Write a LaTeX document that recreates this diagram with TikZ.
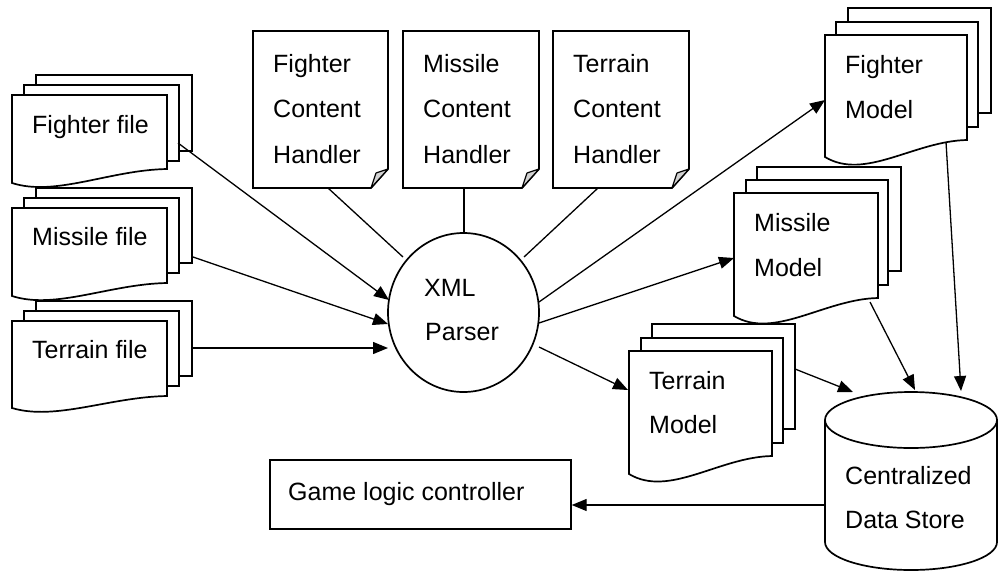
\documentclass[tikz,border=0pt]{standalone}
\usepackage{fontspec}
\setmainfont{Liberation Sans}
\usetikzlibrary{arrows.meta}

% document page with a wavy bottom edge: x0, top, x1, bottom-right y, bottom-left y, dip
\newcommand\frontdoc[6]{%
  \draw[page] (#1,#2) -- (#3,#2) -- (#3,#4)
    .. controls ({#1+0.63*(#3-#1)},{#4+1}) and ({#1+0.28*(#3-#1)},{#5+#6}) .. (#1,#5) -- cycle;}
% plain sheet behind a front page
\newcommand\backdoc[4]{\draw[page] (#1,#2) rectangle (#3,#4);}
% handler sheet with a folded bottom-right corner: left, right
\newcommand\handler[2]{%
  \draw[page] (#1,31) -- (#2,31) -- (#2,169) -- ({#2-17},188) -- (#1,188) -- cycle;
  \draw[foldfill] ({#2-17},188) .. controls ({#2-15},181) .. ({#2-12},173)
    .. controls ({#2-6},171) .. (#2,169) -- cycle;}

\begin{document}
\begin{tikzpicture}[x=1pt,y=-1pt,
  page/.style={draw=black, fill=white, line width=1.7pt, line join=miter},
  conn/.style={draw=black, line width=1.3pt},
  arr/.style={conn, -{Triangle[length=15pt,width=12pt]}},
  lbl/.style={anchor=base west, inner sep=0pt, font=\fontsize{25}{30}\selectfont},
  foldfill/.style={draw=black, fill=gray!35, line width=1.2pt, line join=round}]

\useasboundingbox (0,0) rectangle (998,571);

% ---------- input files ----------
\backdoc{36}{75}{192}{151}
\backdoc{24}{85}{179}{161}
\frontdoc{12}{95}{167}{169}{183}{14}
\node[lbl] (ff-text) at (32,133) {Fighter file};

\backdoc{36}{188}{192}{263}
\backdoc{24}{198}{179}{273}
\frontdoc{12}{208}{167}{283}{296}{14}
\node[lbl] (mf-text) at (32,245) {Missile file};

\backdoc{36}{301}{192}{376}
\backdoc{24}{311}{179}{386}
\frontdoc{12}{321}{167}{396}{408}{13}
\node[lbl] (tf-text) at (32,358) {Terrain file};

% ---------- content handlers ----------
\handler{253}{388}
\node[lbl] (fch-1) at (273,72) {Fighter};
\node[lbl] (fch-2) at (273,117) {Content};
\node[lbl] (fch-3) at (273,163) {Handler};

\handler{403}{539}
\node[lbl] (mch-1) at (423,72) {Missile};
\node[lbl] (mch-2) at (423,117) {Content};
\node[lbl] (mch-3) at (423,163) {Handler};

\handler{553}{689}
\node[lbl] (tch-1) at (573,72) {Terrain};
\node[lbl] (tch-2) at (573,117) {Content};
\node[lbl] (tch-3) at (573,163) {Handler};

% ---------- parser ----------
\draw[page] (463.5,312.5) ellipse [x radius=75.5pt, y radius=79.5pt];
\node[lbl] (xml-1) at (424,296) {XML};
\node[lbl] (xml-2) at (425,340) {Parser};

% ---------- models ----------
\backdoc{848}{8}{991}{113}
\backdoc{836}{22}{978}{127}
\frontdoc{825}{35}{967}{140}{157}{24}
\node[lbl] (fm-1) at (845,73) {Fighter};
\node[lbl] (fm-2) at (845,118) {Model};

\backdoc{757}{167}{901}{271}
\backdoc{746}{180}{888}{285}
\frontdoc{734}{193}{878}{298}{316}{24}
\node[lbl] (mm-1) at (754,231) {Missile};
\node[lbl] (mm-2) at (754,276) {Model};

\backdoc{652}{324}{795}{429}
\backdoc{641}{338}{783}{443}
\frontdoc{629}{351}{772}{456}{474}{24}
\node[lbl] (tm-1) at (649,389) {Terrain};
\node[lbl] (tm-2) at (649,433) {Model};

% ---------- data store ----------
\draw[page] (825,420) -- (825,542)
  arc[start angle=180, end angle=360, x radius=86pt, y radius=28pt] -- (997,420);
\draw[page] (911,420) ellipse [x radius=86pt, y radius=28pt];
\node[lbl] (ds-1) at (845,484) {Centralized};
\node[lbl] (ds-2) at (845,528) {Data Store};

% ---------- controller ----------
\node[draw=black, line width=1.7pt, minimum width=301pt, minimum height=69pt,
      inner sep=0pt, anchor=north west] (glc) at (269,459) {};
\node[lbl] (glc-text) at (288,500) {Game logic controller};

% ---------- connector end points ----------
\coordinate (ff-out) at (178,143);
\coordinate (mf-out) at (193,257);
\coordinate (tf-out) at (193,348);
\coordinate (p-in1) at (389,300);
\coordinate (p-in2) at (388,324);
\coordinate (p-in3) at (388,348);
\coordinate (fch-out) at (328,188);
\coordinate (mch-out) at (464,188);
\coordinate (tch-out) at (598,188);
\coordinate (p-h1) at (403,257);
\coordinate (p-h2) at (464,233);
\coordinate (p-h3) at (524,257);
\coordinate (p-out1) at (539,302);
\coordinate (p-out2) at (539,323);
\coordinate (p-out3) at (539,347);
\coordinate (fm-in) at (825,100);
\coordinate (mm-in) at (734,258);
\coordinate (tm-in) at (628,390);
\coordinate (fm-out) at (946,142);
\coordinate (mm-out) at (870,302);
\coordinate (tm-out) at (795,369);
\coordinate (ds-in1) at (961,391);
\coordinate (ds-in2) at (915,390);
\coordinate (ds-in3) at (853,392);
\coordinate (ds-out) at (825,505);

% ---------- connectors ----------
\draw[arr] (ff-out) -- (p-in1);
\draw[arr] (mf-out) -- (p-in2);
\draw[arr] (tf-out) -- (p-in3);
\draw[conn] (fch-out) -- (p-h1);
\draw[conn] (mch-out) -- (p-h2);
\draw[conn] (tch-out) -- (p-h3);
\draw[arr] (p-out1) -- (fm-in);
\draw[arr] (p-out2) -- (mm-in);
\draw[arr] (p-out3) -- (tm-in);
\draw[arr] (fm-out) -- (ds-in1);
\draw[arr] (mm-out) -- (ds-in2);
\draw[arr] (tm-out) -- (ds-in3);
\draw[arr] (ds-out) -- (glc.east |- ds-out);
\end{tikzpicture}
\end{document}
